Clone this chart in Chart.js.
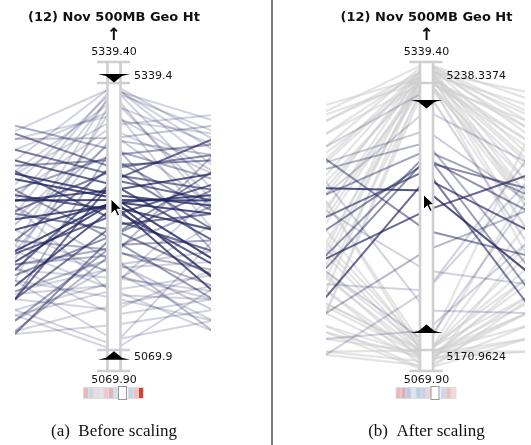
<!DOCTYPE html>
<html>
<head>
<meta charset="utf-8">
<script src="https://cdn.jsdelivr.net/npm/chart.js@4"></script>
<style>
  html, body { margin: 0; padding: 0; background: #fff; }
  #wrap { position: relative; width: 531px; height: 445px; }
  .panel { position: absolute; top: 0; height: 445px; }
</style>
</head>
<body>
<div id="wrap">
  <div class="panel" style="left:0;width:265px"><canvas id="before"></canvas></div>
  <div class="panel" style="left:265px;width:266px"><canvas id="after"></canvas></div>
</div>
<script>
// axis labels and ranges
const axisTitle = "(12) Nov 500MB Geo Ht";
const axisEnds = ["5339.40", "5069.90"];
const geoMin = 5069.9, geoMax = 5339.4;
const scaledMin = 5170.9624, scaledMax = 5238.3374;
const rangeLabelsBefore = ["5339.4", "5069.9"];
const rangeLabelsAfter = ["5238.3374", "5170.9624"];
const captions = ["(a)  Before scaling", "(b)  After scaling"];
const cursorHt = [5222.3, 5210.2];

// one entry per record: geo height on this axis, position (%) on the neighbour axes
const centerHt = [
  5337.4, 5336.4, 5334.3, 5332.3, 5327.3, 5312.1, 5302.1, 5292.0, 5283.9, 5276.8,
  5271.8, 5266.7, 5261.7, 5256.6, 5251.6, 5246.5, 5241.5, 5236.4, 5231.4, 5226.4,
  5223.3, 5221.3, 5220.3, 5219.3, 5218.3, 5216.3, 5214.2, 5211.2, 5206.2, 5201.1,
  5196.1, 5191.0, 5186.0, 5180.9, 5175.9, 5170.8, 5165.8, 5158.7, 5152.7, 5145.6,
  5138.5, 5130.5, 5122.4, 5115.3, 5105.2, 5069.9, 5130.5, 5186.0, 5241.5, 5281.9,
  5335.4, 5330.3, 5322.2, 5317.2, 5307.1, 5297.0, 5286.9, 5253.6, 5162.8, 5155.7,
  5148.6, 5135.5, 5125.4, 5110.3, 5095.1, 5080.0, 5075.0, 5172.9, 5168.8, 5142.6
];
const leftPos = [
  71, 56, 39, 62, 26, 75, 66, 49, 79, 19,
  84, 60, 69, 41, 52, 75, 30, 71, 56, 66,
  64, 56, 37, 33, 45, 49, 24, 58, 36, 67,
  19, 51, 28, 60, 11, 41, 32, 54, 22, 45,
  15, 37, 26, 7, 31, 13, 13, 6, 19, 47,
  82, 51, 67, 34, 79, 58, 37, 81, 22, 11,
  39, 21, 54, 19, 6, 26, 15, 32, 7, 30
];
const rightPos = [
  79, 69, 60, 86, 52, 45, 81, 66, 84, 37,
  64, 77, 52, 71, 45, 60, 56, 41, 66, 54,
  34, 56, 27, 51, 58, 22, 45, 32, 62, 37,
  51, 28, 67, 19, 41, 24, 73, 15, 33, 19,
  47, 28, 11, 24, 19, 23, 7, 60, 79, 73,
  75, 82, 56, 77, 67, 88, 54, 73, 7, 37,
  11, 58, 19, 30, 15, 11, 41, 54, 30, 22
];

const EXT = 21 / 267;
const NAVY = "32, 36, 94";

function posBefore(v) {
  return (v - geoMin) / (geoMax - geoMin);
}
function posAfter(v) {
  if (v > scaledMax) return 1 + EXT * (v - scaledMax) / (geoMax - scaledMax);
  if (v < scaledMin) return -EXT * (scaledMin - v) / (scaledMin - geoMin);
  return (v - scaledMin) / (scaledMax - scaledMin);
}
function shade(p, cursorP) {
  let a = 0.82 - 2.4 * Math.abs(p - cursorP);
  return Math.max(0.2, Math.min(0.82, a));
}

// stretch: how the neighbour axes are drawn in each panel
function buildDatasets(toPos, cursorP, scaled, stretch) {
  let nb = p => 0.45 + (p / 100 - 0.45) * stretch;
  return centerHt.map((v, i) => {
    let p = toPos(v);
    let inside = !scaled || (v >= scaledMin && v <= scaledMax);
    let a = shade(p, cursorP);
    return {
      data: [
        { x: -1, y: nb(leftPos[i]) },
        { x: 0, y: p },
        { x: 1, y: nb(rightPos[i]) }
      ],
      borderColor: inside ? `rgba(${NAVY}, ${a.toFixed(2)})` : "rgba(205, 205, 205, 0.55)",
      borderWidth: inside ? 2 : 2.2,
      order: inside ? Math.round((1 - a) * 100) : 200,
      pointRadius: 0,
      showLine: true,
      tension: 0
    };
  });
}

function geoAxisPlugin(cfg) {
  return {
    id: "geoAxis",
    afterDatasetsDraw(chart) {
      let ctx = chart.ctx;
      let xs = chart.scales.x, ys = chart.scales.y;
      let xc = xs.getPixelForValue(0);
      let top = chart.chartArea.top, bot = chart.chartArea.bottom;
      let yHi = ys.getPixelForValue(1), yLo = ys.getPixelForValue(0);
      ctx.save();

      if (cfg.separator) {
        ctx.strokeStyle = "#555";
        ctx.lineWidth = 1.6;
        ctx.beginPath();
        ctx.moveTo(cfg.separator, 0);
        ctx.lineTo(cfg.separator, chart.height);
        ctx.stroke();
      }

      // axis body
      ctx.fillStyle = "#fff";
      ctx.fillRect(xc - 7.5, top - 1, 15, bot - top + 2);
      ctx.strokeStyle = "#cfcfcf";
      ctx.lineWidth = 2.6;
      ctx.beginPath();
      [xc - 6.5, xc + 6.5].forEach(x => { ctx.moveTo(x, top); ctx.lineTo(x, bot); });
      [top, yHi, yLo, bot].forEach(y => { ctx.moveTo(xc - 17, y); ctx.lineTo(xc + 16, y); });
      ctx.stroke();

      // brush handles
      ctx.fillStyle = "#000";
      let handle = (p, dir) => {
        ctx.beginPath();
        ctx.moveTo(xc - 16, p - 4 * dir);
        ctx.lineTo(xc + 16, p - 4 * dir);
        ctx.lineTo(xc + 8, p - 2 * dir);
        ctx.lineTo(xc, p + 4.5 * dir);
        ctx.lineTo(xc - 8, p - 2 * dir);
        ctx.closePath();
        ctx.fill();
      };
      handle(ys.getPixelForValue(cfg.brush[1]), 1);
      handle(ys.getPixelForValue(cfg.brush[0]), -1);

      // texts
      ctx.fillStyle = "#111";
      ctx.textBaseline = "middle";
      ctx.font = "11px 'DejaVu Sans'";
      ctx.textAlign = "left";
      ctx.fillText(cfg.rangeLabels[0], xc + 20, yHi - 6.5);
      ctx.fillText(cfg.rangeLabels[1], xc + 20, yLo + 7);
      ctx.textAlign = "center";
      ctx.fillText(axisEnds[0], xc, top - 10);
      ctx.fillText(axisEnds[1], xc, bot + 9);
      ctx.font = "bold 13px 'DejaVu Sans'";
      ctx.fillText(axisTitle, xc, 18);
      ctx.font = "bold 17px 'DejaVu Sans'";
      ctx.fillText("\u2191", xc, 36);
      ctx.font = "17px 'Liberation Serif'";
      ctx.fillText(cfg.caption, xc, 432);

      // colour strip under the axis
      let x0 = xc - 30;
      ctx.fillStyle = "#ddd";
      ctx.fillRect(x0 - 1, 387, 61, 12);
      cfg.cells.forEach((c, i) => {
        ctx.fillStyle = c;
        ctx.fillRect(x0 + i * 5, 388, 4, 10);
      });
      ctx.fillStyle = "#fff";
      ctx.strokeStyle = "#999";
      ctx.lineWidth = 1;
      ctx.fillRect(xc + 4.5, 386.5, 8, 13);
      ctx.strokeRect(xc + 4.5, 386.5, 8, 13);

      // mouse pointer
      let tx = xc - 3, ty = ys.getPixelForValue(cfg.cursor);
      ctx.beginPath();
      ctx.moveTo(tx, ty);
      ctx.lineTo(tx, ty + 15);
      ctx.lineTo(tx + 3.8, ty + 11.2);
      ctx.lineTo(tx + 6.5, ty + 17);
      ctx.lineTo(tx + 8.7, ty + 16);
      ctx.lineTo(tx + 6, ty + 10.3);
      ctx.lineTo(tx + 10.8, ty + 10.3);
      ctx.closePath();
      ctx.fillStyle = "#000";
      ctx.fill();
      ctx.strokeStyle = "#fff";
      ctx.stroke();

      ctx.restore();
    }
  };
}

function makeChart(id, datasets, padding, cfg) {
  return new Chart(document.getElementById(id), {
    type: "scatter",
    data: { datasets: datasets },
    options: {
      responsive: true,
      maintainAspectRatio: false,
      animation: false,
      events: [],
      layout: { padding: padding },
      plugins: {
        legend: { display: false },
        tooltip: { enabled: false },
        title: { display: false }
      },
      scales: {
        x: { type: "linear", min: -1, max: 0.98, display: false },
        y: { type: "linear", min: -EXT, max: 1 + EXT, display: false }
      }
    },
    plugins: [geoAxisPlugin(cfg)]
  });
}

let cursorA = posBefore(cursorHt[0]);
let cursorB = posAfter(cursorHt[1]);

makeChart("before", buildDatasets(posBefore, cursorA, false, 1),
  { left: 15, right: 54, top: 62, bottom: 74 },
  {
    rangeLabels: rangeLabelsBefore,
    caption: captions[0],
    brush: [-0.022, 1.019],
    cursor: cursorA,
    cells: ["#e9b7bb", "#c9d7e8", "#f0d9db", "#dde4ec", "#ecc9cc", "#e7b3b8",
            "#d4dfeb", "#eed3d5", "#ffffff", "#c6d6e9", "#ecc4c7", "#e23b2e"]
  });

makeChart("after", buildDatasets(posAfter, cursorB, true, 1.2),
  { left: 61, right: 6, top: 62, bottom: 74 },
  {
    rangeLabels: rangeLabelsAfter,
    caption: captions[1],
    brush: [0.079, 0.921],
    cursor: cursorB,
    separator: 7,
    cells: ["#eab8bc", "#e6aeb3", "#b8cbe4", "#dde5ee", "#bccee6", "#c3d3e8",
            "#efd2d5", "#e58f95", "#ffffff", "#cbd8ea", "#ecc0c4", "#efd9db"]
  });
</script>
</body>
</html>
